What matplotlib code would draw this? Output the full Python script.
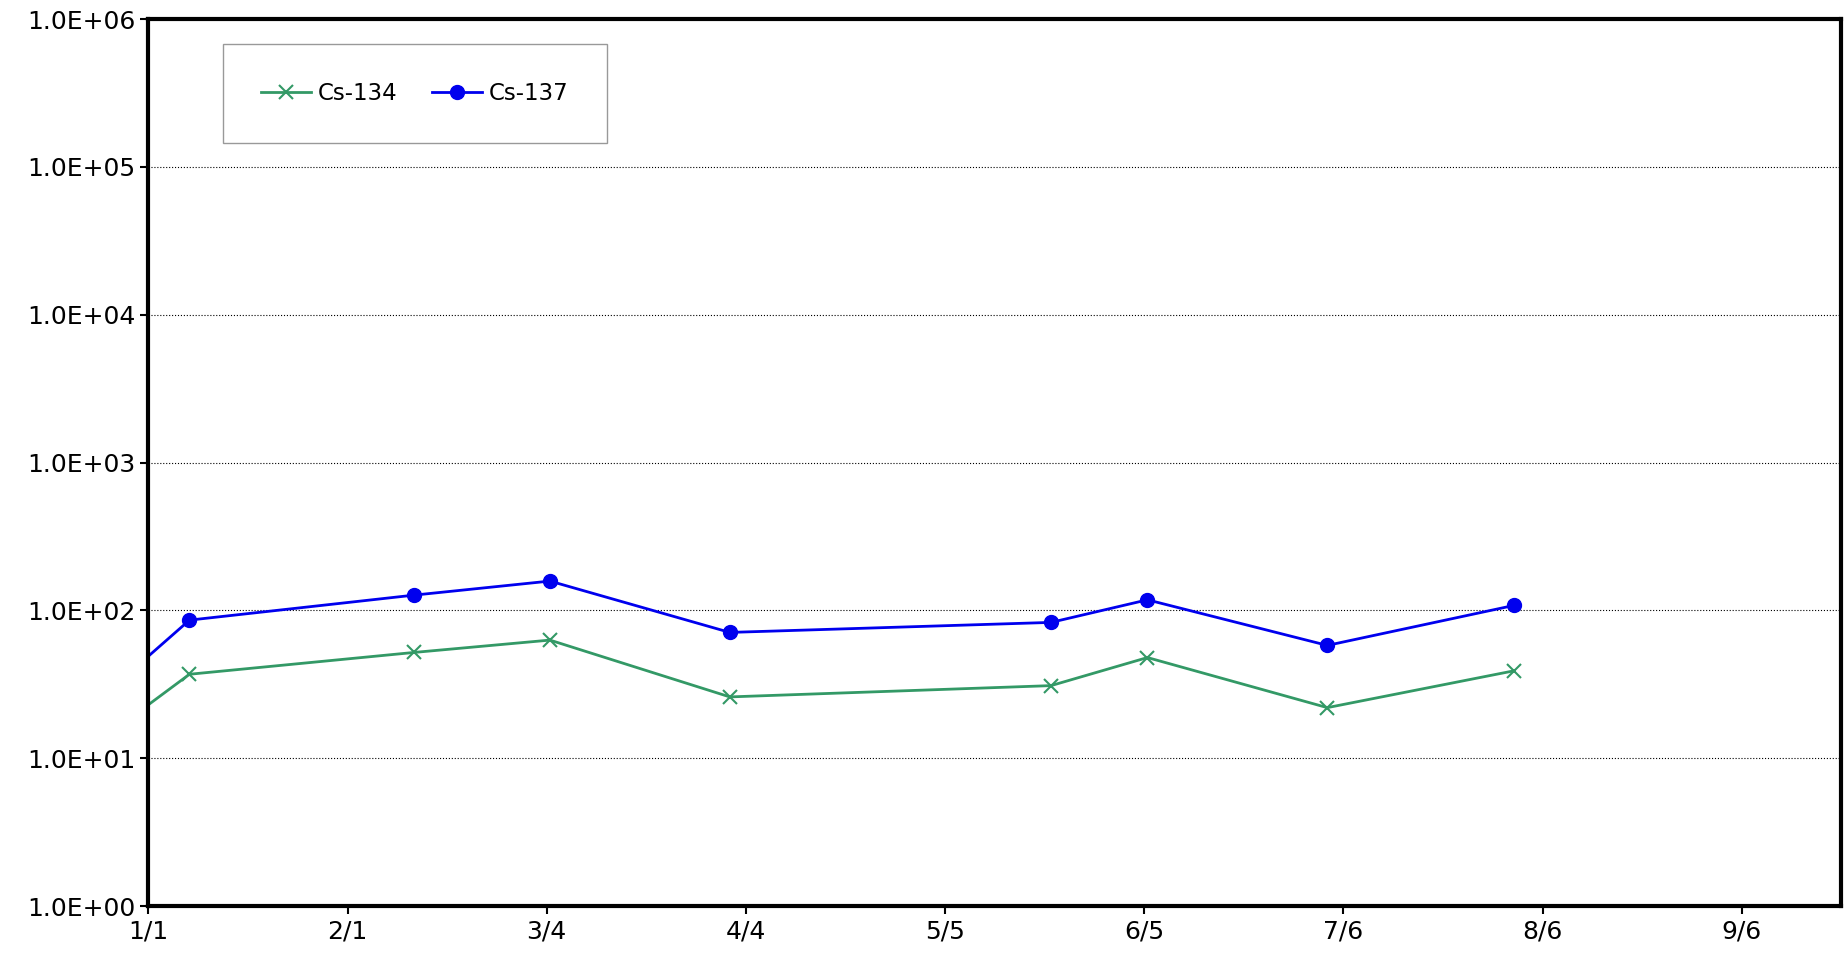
import matplotlib
matplotlib.use("Agg")
import matplotlib.pyplot as plt
from matplotlib.ticker import FixedLocator, NullLocator

tick_days = [0, 31, 62, 93, 124, 155, 186, 217, 248]
tick_labels = ["1/1", "2/1", "3/4", "4/4", "5/5", "6/5", "7/6", "8/6", "9/6"]
days = [0, 6.4, 41.4, 62.5, 90.5, 140.5, 155.5, 183.5, 212.5]
cs137 = [49, 86, 127, 158, 71, 83, 118, 58, 108]
cs134 = [23, 37, 52, 63, 26, 31, 48, 22, 39]
yticks = [1, 10, 100, 1000, 10000, 100000, 1000000]
ylabels = ["1.0E+00", "1.0E+01", "1.0E+02", "1.0E+03", "1.0E+04", "1.0E+05", "1.0E+06"]

fig = plt.figure(figsize=(18.45, 9.59), dpi=100)
ax = fig.add_axes([0.0804, 0.0552, 0.9176, 0.9248])
mk = list(range(1, len(days)))
ax.plot(days, cs134, color="#339966", marker="x", markersize=10, mew=1.5, lw=2,
        label="Cs-134", markevery=mk)
ax.plot(days, cs137, color="#0000ee", marker="o", markersize=10, lw=2,
        label="Cs-137", markevery=mk)
ax.set_yscale("log")
ax.set_ylim(1, 1e6)
ax.set_xlim(0, 263.5)
ax.yaxis.set_major_locator(FixedLocator(yticks))
ax.yaxis.set_minor_locator(NullLocator())
ax.set_yticklabels(ylabels, fontsize=18)
ax.set_xticks(tick_days)
ax.set_xticklabels(tick_labels, fontsize=18)
ax.tick_params(axis="both", length=6, width=1.5, direction="out")
ax.grid(axis="y", color="black", linestyle=":", lw=0.8)
for s in ax.spines.values():
    s.set_linewidth(3)
leg = ax.legend(loc="upper left", bbox_to_anchor=(0.044, 0.972), ncol=2, fontsize=16.5,
                fancybox=False, edgecolor="gray", borderpad=1.65, handlelength=2.2,
                columnspacing=1.5, borderaxespad=0, handletextpad=0.3)
leg.get_frame().set_linewidth(1)
fig.savefig("out.png", dpi=100)
